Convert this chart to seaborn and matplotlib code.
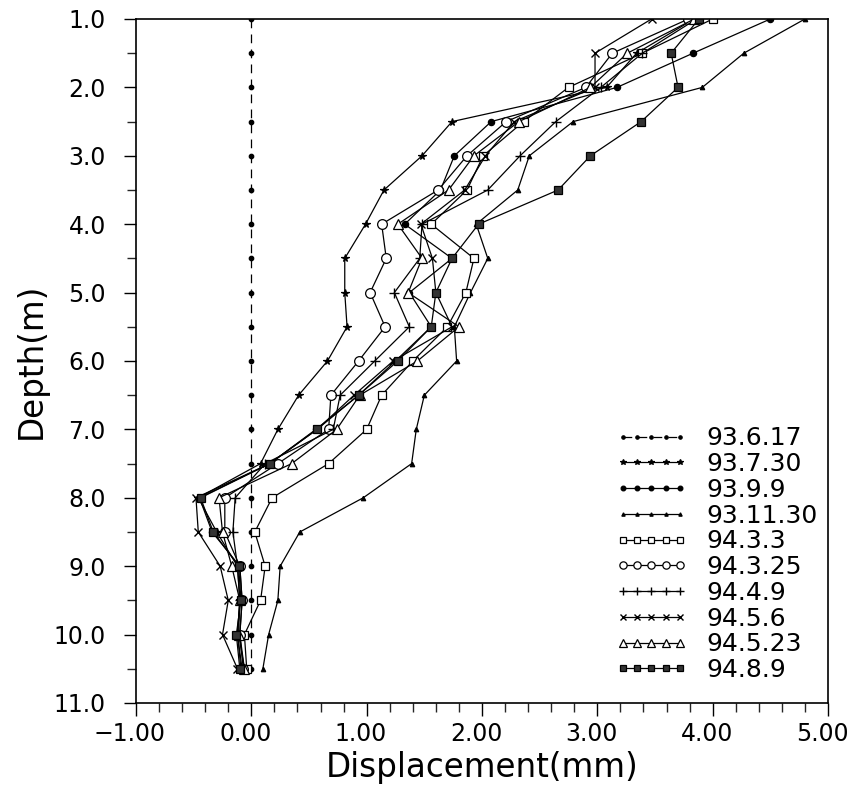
import matplotlib
matplotlib.use("Agg")
import matplotlib.pyplot as plt
import matplotlib.transforms as mtransforms
import seaborn as sns
import numpy as np
from matplotlib.ticker import MultipleLocator, FixedLocator

# ---- data ----
depths = [1.0, 1.5, 2.0, 2.5, 3.0, 3.5, 4.0, 4.5, 5.0, 5.5,
          6.0, 6.5, 7.0, 7.5, 8.0, 8.5, 9.0, 9.5, 10.0, 10.5]

s_930617 = [0.0] * 20
s_930730 = [3.84, 3.34, 3.08, 1.74, 1.48, 1.15, 0.99, 0.81, 0.81, 0.83,
            0.66, 0.41, 0.23, 0.08, -0.46, -0.30, -0.12, -0.10, -0.12, -0.08]
s_930909 = [4.50, 3.83, 3.17, 2.08, 1.76, 1.64, 1.33, 1.74, 1.37, 1.56,
            1.25, 0.93, 0.56, 0.16, -0.45, -0.34, -0.10, -0.08, -0.10, -0.06]
s_931130 = [4.80, 4.27, 3.91, 2.79, 2.41, 2.31, 1.95, 2.05, 1.90, 1.76,
            1.78, 1.50, 1.43, 1.39, 0.97, 0.42, 0.25, 0.23, 0.15, 0.10]
s_940303 = [4.00, 3.39, 2.75, 2.36, 2.01, 1.87, 1.56, 1.93, 1.86, 1.70,
            1.40, 1.13, 1.00, 0.67, 0.18, 0.03, 0.12, 0.08, -0.06, -0.04]
s_940325 = [3.79, 3.13, 2.90, 2.21, 1.87, 1.62, 1.13, 1.17, 1.03, 1.16,
            0.93, 0.69, 0.67, 0.23, -0.23, -0.23, -0.10, -0.08, -0.10, -0.07]
s_940409 = [3.86, 3.39, 3.03, 2.64, 2.33, 2.05, 1.48, 1.46, 1.24, 1.37,
            1.07, 0.77, 0.71, 0.12, -0.14, -0.16, -0.12, -0.10, -0.12, -0.09]
s_940506 = [3.47, 2.98, 2.98, 2.28, 2.03, 1.85, 1.47, 1.57, 1.60, 1.74,
            1.23, 0.89, 0.57, 0.16, -0.48, -0.46, -0.27, -0.20, -0.25, -0.12]
s_940523 = [3.84, 3.26, 2.94, 2.32, 1.93, 1.71, 1.27, 1.48, 1.36, 1.80,
            1.44, 0.94, 0.74, 0.35, -0.28, -0.25, -0.17, -0.10, -0.11, -0.06]
s_940809 = [3.88, 3.64, 3.70, 3.38, 2.94, 2.66, 1.97, 1.74, 1.60, 1.56,
            1.27, 0.93, 0.57, 0.16, -0.44, -0.33, -0.11, -0.09, -0.13, -0.10]

series_names = ["93.6.17", "93.7.30", "93.9.9", "93.11.30", "94.3.3",
                "94.3.25", "94.4.9", "94.5.6", "94.5.23", "94.8.9"]
series_values = [s_930617, s_930730, s_930909, s_931130, s_940303,
                 s_940325, s_940409, s_940506, s_940523, s_940809]

xtick_values = [-1, 0, 1, 2, 3, 4, 5]
xtick_labels = ["\u22121.00", "0.00", "1.00", "2.00", "3.00", "4.00", "5.00"]
ytick_values = [1, 2, 3, 4, 5, 6, 7, 8, 9, 10, 11]
ytick_labels = ["1.0", "2.0", "3.0", "4.0", "5.0", "6.0", "7.0", "8.0",
                "9.0", "10.0", "11.0"]

# ---- styles ----
styles = [
    dict(marker="o", markersize=3.2, markerfacecolor="k", linestyle=(0, (7, 5))),
    dict(marker="*", markersize=5.5, markerfacecolor="k"),
    dict(marker="o", markersize=4.5, markerfacecolor="k"),
    dict(marker="^", markersize=3.2, markerfacecolor="k"),
    dict(marker="s", markersize=6, markerfacecolor="white"),
    dict(marker="o", markersize=7, markerfacecolor="white"),
    dict(marker="+", markersize=7.5, markeredgewidth=1.0),
    dict(marker="x", markersize=5.5, markeredgewidth=1.0),
    dict(marker="^", markersize=7, markerfacecolor="white"),
    dict(marker="s", markersize=6, markerfacecolor="0.2"),
]

sns.set_style("ticks")
plt.rcParams["font.family"] = ["DejaVu Sans"]
plt.rcParams["text.color"] = "k"
plt.rcParams["axes.labelcolor"] = "k"

fig = plt.figure(figsize=(8.52, 7.85), dpi=100)
ax = fig.add_axes([136 / 852, 1 - 703 / 785, 692 / 852, 684 / 785])

for name, vals, st in zip(series_names, series_values, styles):
    kw = dict(color="k", linewidth=0.9, markeredgecolor="k", markeredgewidth=0.9)
    kw.update(st)
    sns.lineplot(x=vals, y=depths, orient="y", sort=False, estimator=None,
                 ax=ax, label=name, **kw)

ax.set_xlim(-1, 5)
ax.set_ylim(11, 1)
ax.xaxis.set_major_locator(FixedLocator(xtick_values))
ax.set_xticklabels(xtick_labels)
ax.xaxis.set_minor_locator(MultipleLocator(0.2))
ax.yaxis.set_major_locator(FixedLocator(ytick_values))
ax.set_yticklabels(ytick_labels)
ax.yaxis.set_minor_locator(MultipleLocator(0.5))

ax.tick_params(axis="x", which="major", direction="out", length=9, width=1.0,
               labelsize=17, pad=5, colors="k")
ax.tick_params(axis="x", which="minor", direction="out", length=6.5, width=1.0)
ax.tick_params(axis="y", which="major", direction="out", length=8.6, width=1.0,
               labelsize=17, pad=13, colors="k")
ax.tick_params(axis="y", which="minor", direction="out", length=6.5, width=1.0)

# shift x tick labels slightly left, as in the reference
offset = mtransforms.ScaledTranslation(-6 / 100, 0, fig.dpi_scale_trans)
for lbl in ax.get_xticklabels():
    lbl.set_transform(lbl.get_transform() + offset)

for sp in ax.spines.values():
    sp.set_visible(True)
    sp.set_linewidth(1.2)
    sp.set_color("k")

ax.set_xlabel("Displacement(mm)", fontsize=23.5, labelpad=3, color="k")
ax.set_ylabel("Depth(m)", fontsize=23.5, labelpad=4, color="k")

handles, labels = ax.get_legend_handles_labels()
leg = ax.legend(handles, labels, loc="lower left", numpoints=5,
                frameon=False, fontsize=18, handlelength=2.9,
                markerscale=0.75, labelspacing=0.07, handletextpad=0.76,
                borderaxespad=0.0, borderpad=0.4,
                bbox_to_anchor=(0.678, 0.016))
for t in leg.get_texts():
    t.set_color("k")

fig.savefig("out.png", dpi=100)
